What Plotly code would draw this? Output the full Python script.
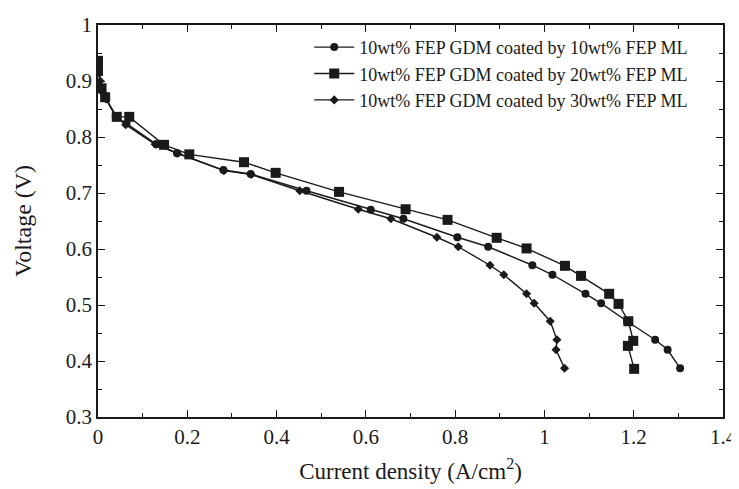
import plotly.graph_objects as go

# 10wt% FEP GDM coated by 10wt% FEP ML (circles)
x_10 = [0.0, 0.002, 0.008, 0.016, 0.042, 0.064, 0.131, 0.177, 0.281, 0.342, 0.467, 0.611, 0.684,
        0.805, 0.874, 0.973, 1.018, 1.092, 1.127, 1.185, 1.248, 1.276, 1.304]
v_10 = [0.930, 0.915, 0.885, 0.870, 0.835, 0.824, 0.787, 0.771, 0.741, 0.734, 0.704, 0.670, 0.654,
        0.621, 0.604, 0.571, 0.554, 0.520, 0.503, 0.471, 0.438, 0.420, 0.387]

# 10wt% FEP GDM coated by 20wt% FEP ML (squares)
x_20 = [0.0, 0.0, 0.008, 0.016, 0.042, 0.070, 0.148, 0.2045, 0.327, 0.398, 0.540, 0.689, 0.783,
        0.893, 0.960, 1.046, 1.082, 1.145, 1.166, 1.188, 1.199, 1.187, 1.201]
v_20 = [0.936, 0.918, 0.887, 0.871, 0.836, 0.836, 0.786, 0.769, 0.755, 0.736, 0.702, 0.671, 0.652,
        0.620, 0.601, 0.570, 0.552, 0.520, 0.502, 0.471, 0.436, 0.427, 0.386]

# 10wt% FEP GDM coated by 30wt% FEP ML (small diamonds)
x_30 = [0.0, 0.005, 0.010, 0.018, 0.040, 0.062, 0.128, 0.178, 0.282, 0.343, 0.452, 0.583, 0.656,
        0.759, 0.807, 0.878, 0.909, 0.960, 0.977, 1.013, 1.028, 1.026, 1.045]
v_30 = [0.925, 0.900, 0.880, 0.868, 0.836, 0.822, 0.787, 0.771, 0.740, 0.733, 0.704, 0.671, 0.654,
        0.621, 0.604, 0.571, 0.554, 0.520, 0.503, 0.471, 0.438, 0.420, 0.387]

names = ["10wt% FEP GDM coated by 10wt% FEP ML",
         "10wt% FEP GDM coated by 20wt% FEP ML",
         "10wt% FEP GDM coated by 30wt% FEP ML"]

x_ticks = [0, 0.2, 0.4, 0.6, 0.8, 1, 1.2, 1.4]
x_tick_labels = ["0", "0.2", "0.4", "0.6", "0.8", "1", "1.2", "1.4"]
y_ticks = [0.3, 0.4, 0.5, 0.6, 0.7, 0.8, 0.9, 1]
y_tick_labels = ["0.3", "0.4", "0.5", "0.6", "0.7", "0.8", "0.9", "1"]

ink = "#1a1a1a"
font_family = "Liberation Serif, Times New Roman, serif"

fig = go.Figure()
fig.add_trace(go.Scatter(x=x_10, y=v_10, name=names[0], mode="lines+markers",
                         line=dict(color=ink, width=1.4),
                         marker=dict(symbol="circle", size=8, color=ink)))
fig.add_trace(go.Scatter(x=x_20, y=v_20, name=names[1], mode="lines+markers",
                         line=dict(color=ink, width=1.4),
                         marker=dict(symbol="square", size=10, color=ink)))
fig.add_trace(go.Scatter(x=x_30, y=v_30, name=names[2], mode="lines+markers",
                         line=dict(color=ink, width=1.4),
                         marker=dict(symbol="diamond", size=7, color=ink)))

axis_common = dict(
    showline=True, linecolor=ink, linewidth=1.5, mirror="allticks",
    ticks="inside", ticklen=7, tickwidth=1.2, tickcolor=ink,
    showgrid=False, zeroline=False, automargin=False,
    tickfont=dict(family=font_family, size=21, color=ink),
    minor=dict(ticks="inside", ticklen=4, tickwidth=1, tickcolor=ink),
)

fig.update_xaxes(range=[0, 1.4], tickvals=x_ticks, ticktext=x_tick_labels,
                 title=dict(text="Current density (A/cm<sup>2</sup>)",
                            font=dict(family=font_family, size=23, color=ink), standoff=15),
                 **axis_common)
fig.update_xaxes(minor=dict(dtick=0.1, tick0=0))
fig.update_yaxes(range=[0.3, 1.0], tickvals=y_ticks, ticktext=y_tick_labels,
                 title=dict(text="Voltage (V)",
                            font=dict(family=font_family, size=24, color=ink), standoff=27),
                 **axis_common)
fig.update_yaxes(minor=dict(dtick=0.05, tick0=0.3))

fig.update_layout(
    width=731, height=481,
    margin=dict(l=90, r=16, t=17, b=72),
    paper_bgcolor="white", plot_bgcolor="white",
    font=dict(family=font_family, color=ink),
    legend=dict(x=0.338, y=0.99, xanchor="left", yanchor="top",
                bgcolor="rgba(0,0,0,0)", font=dict(family=font_family, size=18, color=ink),
                itemwidth=40, tracegroupgap=0),
    showlegend=True,
)

fig.write_html("out.html")
